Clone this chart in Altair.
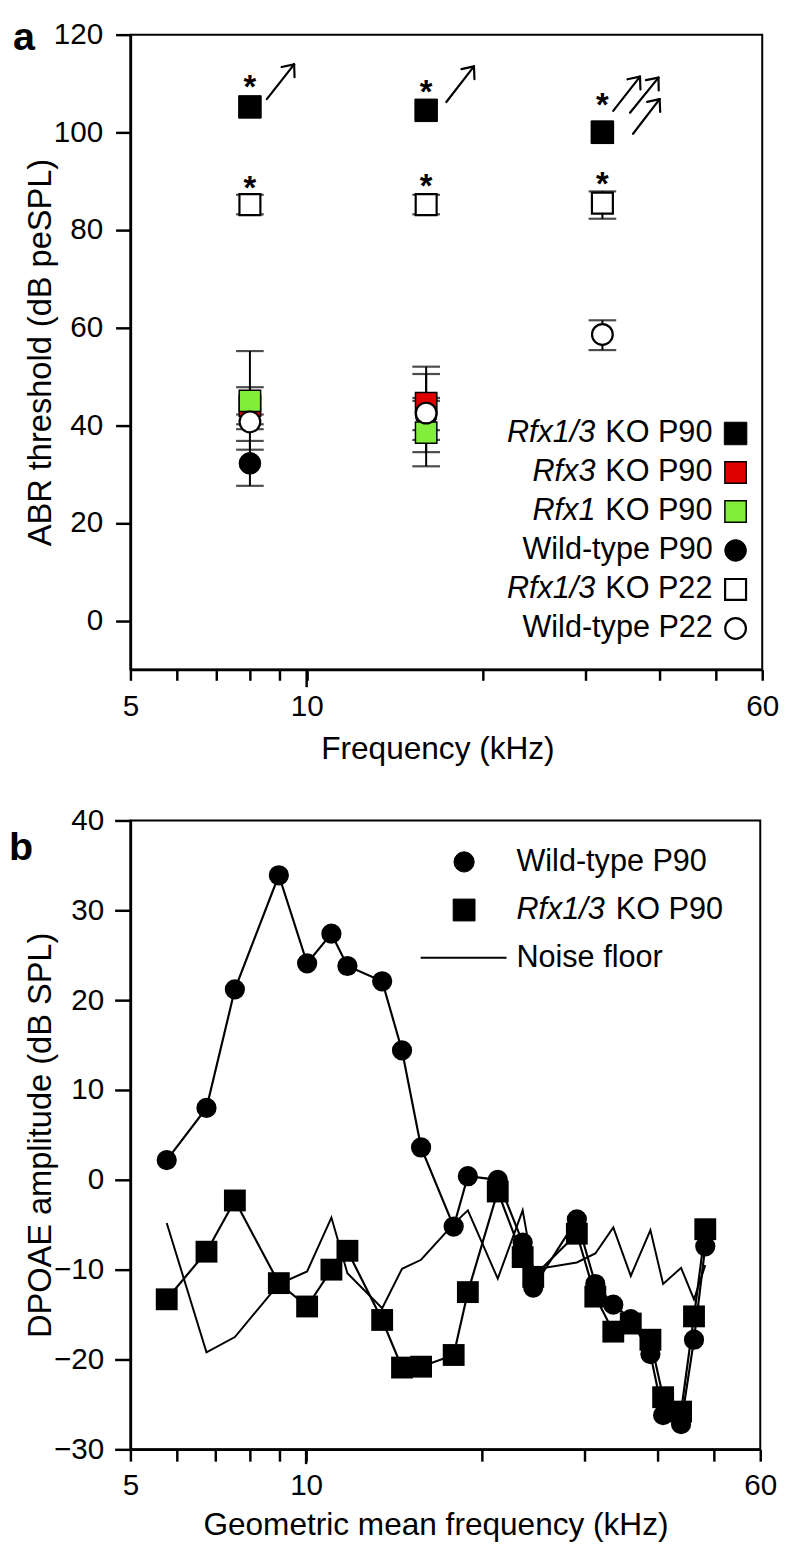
import math
import altair as alt
import pandas as pd

FONT = "Liberation Sans"

# ---------------- Panel a data ----------------
freq_a = [8, 16, 32]
series_a = ["Rfx1/3 KO P90", "Rfx3 KO P90", "Rfx1 KO P90",
            "Wild-type P90", "Rfx1/3 KO P22", "Wild-type P22"]
abr_ko13_p90 = [105.2, 104.5, 100.0]
abr_rfx3_p90 = [44.0, 44.5, 100.0]
abr_rfx1_p90 = [45.0, 38.5, 100.0]
abr_wt_p90 = [32.2, 42.0, 100.0]
abr_ko13_p22 = [85.2, 85.2, 85.5]
abr_wt_p22 = [40.7, 42.5, 58.6]

lo_ko13_p90 = [None, None, None]
hi_ko13_p90 = [None, None, None]
lo_rfx3_p90 = [40.2, 37.0, None]
hi_rfx3_p90 = [47.8, 52.0, None]
lo_rfx1_p90 = [35.0, 31.6, None]
hi_rfx1_p90 = [55.2, 45.6, None]
lo_wt_p90 = [27.6, 39.0, None]
hi_wt_p90 = [36.8, 45.0, None]
lo_ko13_p22 = [83.2, 83.2, 82.3]
hi_ko13_p22 = [87.2, 87.2, 87.9]
lo_wt_p22 = [39.2, 34.5, 55.4]
hi_wt_p22 = [42.2, 50.5, 61.5]

# significance asterisks (frequency, dB)
star_freq = [8, 16, 32, 8, 16, 32]
star_db = [110.8, 109.9, 107.1, 90.2, 90.6, 91.0]

# "above maximum" arrows (start -> tip), frequency / dB
arrow_f0 = [8.55, 17.32, 33.39, 35.67, 36.1]
arrow_v0 = [106.8, 106.2, 104.4, 104.0, 99.7]
arrow_f1 = [9.52, 19.31, 37.1, 39.9, 40.08]
arrow_v1 = [113.9, 113.5, 111.4, 111.2, 106.8]

# ---------------- Panel b data ----------------
freq_b = [5.77, 6.75, 7.55, 8.98, 10.04, 11.05, 11.77, 13.5, 14.6, 15.74,
          17.9, 18.93, 21.3, 23.5, 24.5, 29.1, 31.3, 33.6, 36.0, 38.9,
          40.9, 43.9, 46.2, 48.3]
dp_wt_p90 = [2.2, 8.0, 21.2, 33.9, 24.1, 27.4, 23.8, 22.1, 14.4, 3.6,
             -5.2, 0.4, 0.0, -7.0, -12.0, -4.4, -11.6, -13.9, -15.5, -19.4,
             -26.2, -27.2, -17.8, -7.4]
dp_ko13_p90 = [-13.3, -8.0, -2.3, -11.5, -14.1, -10.0, -7.9, -15.6, -20.9, -20.8,
               -19.5, -12.5, -1.3, -8.6, -10.8, -6.0, -13.0, -16.9, -16.0, -17.8,
               -24.2, -25.8, -15.2, -5.5]
dp_noise = [-4.8, -19.2, -17.5, -11.6, -10.2, -4.2, -10.4, -14.3, -9.9, -8.9,
            -4.9, -3.4, -11.0, -3.4, -10.0, -9.2, -8.2, -5.3, -10.7, -5.6,
            -11.6, -9.8, -13.3, -9.5]

x_ticks = [5, 6, 7, 8, 9, 10, 20, 30, 40, 50, 60]
x_labels = [5, 10, 60]
x_long_tick = [10]

# ---------------- geometry ----------------
WA, HA = 640, 643
WB, HB = 638, 637

one = pd.DataFrame({"k": [0]})

label_expr = "indexof([" + ",".join(str(v) for v in x_labels) + "], datum.value) >= 0 ? datum.value : ''"

def ax_x(title, label_pad, title_pad, tick, title_x):
    return alt.Axis(values=x_ticks, labelExpr=label_expr, title=title, grid=False,
                    tickSize=tick, labelPadding=label_pad, titlePadding=title_pad,
                    labelFlush=False, labelOverlap=False, titleFontSize=32,
                    titleX=title_x)

def ax_y(title, values, label_pad, title_pad, tick):
    return alt.Axis(values=values, title=title, grid=False, tickSize=tick,
                    labelPadding=label_pad, titlePadding=title_pad, titleFontSize=33)

SXA = alt.Scale(type="log", domain=[5, 60], nice=False)
SYA = alt.Scale(domain=[-10, 120], nice=False)
AXA = ax_x("Frequency (kHz)", 12, 12, 11, 311)
AYA = ax_y("ABR threshold (dB peSPL)", [0, 20, 40, 60, 80, 100, 120], 13, -4, 15)

def XA(f):
    return alt.X(f, type="quantitative", scale=SXA, axis=AXA)

def YA(f):
    return alt.Y(f, type="quantitative", scale=SYA, axis=AYA)

rows = []
vals = [abr_ko13_p90, abr_rfx3_p90, abr_rfx1_p90, abr_wt_p90, abr_ko13_p22, abr_wt_p22]
los = [lo_ko13_p90, lo_rfx3_p90, lo_rfx1_p90, lo_wt_p90, lo_ko13_p22, lo_wt_p22]
his = [hi_ko13_p90, hi_rfx3_p90, hi_rfx1_p90, hi_wt_p90, hi_ko13_p22, hi_wt_p22]
for s, v, lo, hi in zip(series_a, vals, los, his):
    for f, vv, l, h in zip(freq_a, v, lo, hi):
        rows.append({"series": s, "freq": f, "value": vv, "lo": l, "hi": h})
df_a = pd.DataFrame(rows)

styles_a = {
    "Wild-type P90": dict(shape="circle", fill="black", stroke="black", strokeWidth=1, size=480),
    "Rfx1 KO P90": dict(shape="square", fill="#82EE3C", stroke="black", strokeWidth=1.5, size=470),
    "Rfx3 KO P90": dict(shape="square", fill="#E00000", stroke="black", strokeWidth=1.5, size=470),
    "Rfx1/3 KO P90": dict(shape="square", fill="black", stroke="black", strokeWidth=1, size=520),
    "Rfx1/3 KO P22": dict(shape="square", fill="white", stroke="black", strokeWidth=2.2, size=450),
    "Wild-type P22": dict(shape="circle", fill="white", stroke="black", strokeWidth=2.2, size=440),
}
draw_order_a = ["Wild-type P90", "Rfx3 KO P90", "Rfx1 KO P90", "Rfx1/3 KO P90",
                "Rfx1/3 KO P22", "Wild-type P22"]

err_base = alt.Chart(df_a).transform_filter("isValid(datum.lo)")
layers_a = [
    err_base.mark_rule(color="black", strokeWidth=2).encode(x=XA("freq"), y=YA("lo"), y2="hi:Q"),
    err_base.mark_tick(color="black", orient="horizontal", size=28, thickness=2.2).encode(x=XA("freq"), y=YA("lo")),
    err_base.mark_tick(color="black", orient="horizontal", size=28, thickness=2.2).encode(x=XA("freq"), y=YA("hi")),
]
for s in draw_order_a:
    st = styles_a[s]
    layers_a.append(
        alt.Chart(df_a).transform_filter(alt.datum.series == s)
        .mark_point(shape=st["shape"], filled=True, fill=st["fill"], stroke=st["stroke"],
                    strokeWidth=st["strokeWidth"], size=st["size"], opacity=1)
        .encode(x=XA("freq"), y=YA("value"))
    )

# asterisks
df_star = pd.DataFrame({"freq": star_freq, "db": star_db})
layers_a.append(
    alt.Chart(df_star).mark_text(text="*", font=FONT, fontSize=33, fontWeight="bold",
                                 color="black", baseline="alphabetic", dy=19)
    .encode(x=XA("freq"), y=YA("db"))
)

# arrows (shaft + open head)
KX = WA / math.log10(60 / 5)
KY = HA / 130.0
seg = []
for f0, v0, f1, v1 in zip(arrow_f0, arrow_v0, arrow_f1, arrow_v1):
    seg.append({"fa": f0, "va": v0, "fb": f1, "vb": v1})
    X0, Y0 = math.log10(f0) * KX, v0 * KY
    X1, Y1 = math.log10(f1) * KX, v1 * KY
    d = math.hypot(X1 - X0, Y1 - Y0)
    ux, uy = (X0 - X1) / d, (Y0 - Y1) / d
    for ang in (40, -40):
        a = math.radians(ang)
        rx = ux * math.cos(a) - uy * math.sin(a)
        ry = ux * math.sin(a) + uy * math.cos(a)
        Xe, Ye = X1 + 13 * rx, Y1 + 13 * ry
        seg.append({"fa": f1, "va": v1, "fb": 10 ** (Xe / KX), "vb": Ye / KY})
df_seg = pd.DataFrame(seg)
layers_a.append(
    alt.Chart(df_seg).mark_rule(color="black", strokeWidth=2.2, strokeCap="round")
    .encode(x=XA("fa"), x2="fb:Q", y=YA("va"), y2="vb:Q")
)

# longer tick at 10 kHz
df_long = pd.DataFrame({"freq": x_long_tick})
layers_a.append(
    alt.Chart(df_long).mark_rule(color="black", strokeWidth=2.5)
    .encode(x=XA("freq"), y=alt.value(HA), y2=alt.value(HA + 18))
)

def txt(t, x, y, align, italic=False, size=31, weight="normal"):
    return alt.Chart(one).mark_text(
        text=t, align=align, baseline="middle", font=FONT, fontSize=size,
        fontStyle="italic" if italic else "normal", fontWeight=weight, color="black"
    ).encode(x=alt.value(x), y=alt.value(y))

def sym(x, y, st):
    return alt.Chart(one).mark_point(
        shape=st["shape"], filled=True, fill=st["fill"], stroke=st["stroke"],
        strokeWidth=st["strokeWidth"], size=st["size"], opacity=1
    ).encode(x=alt.value(x), y=alt.value(y))

# legend a
leg_a = [("Rfx1/3", "KO P90", "Rfx1/3 KO P90"), ("Rfx3", "KO P90", "Rfx3 KO P90"),
         ("Rfx1", "KO P90", "Rfx1 KO P90"), (None, "Wild-type P90", "Wild-type P90"),
         ("Rfx1/3", "KO P22", "Rfx1/3 KO P22"), (None, "Wild-type P22", "Wild-type P22")]
for i, (it, rest, key) in enumerate(leg_a):
    y = 404 + i * 39.5
    if it is None:
        layers_a.append(txt(rest, 590, y, "right"))
    else:
        layers_a.append(txt(it, 471, y, "right", italic=True))
        layers_a.append(txt(rest, 481, y, "left"))
    layers_a.append(sym(613, y, styles_a[key]))

layers_a.append(
    alt.Chart(one).mark_text(text="a", align="left", baseline="top", font=FONT,
                             fontSize=40, fontWeight="bold", color="black")
    .encode(x=alt.value(-119), y=alt.value(-16))
)

panel_a = alt.layer(*layers_a).properties(width=WA, height=HA)

# ---------------- Panel b ----------------
SXB = alt.Scale(type="log", domain=[5, 60], nice=False)
SYB = alt.Scale(domain=[-30, 40], nice=False)
AXB = ax_x("Geometric mean frequency (kHz)", 10, 9, 12, 309)
AYB = ax_y("DPOAE amplitude (dB SPL)", [-30, -20, -10, 0, 10, 20, 30, 40], 11, -4, 16)

def XB(f):
    return alt.X(f, type="quantitative", scale=SXB, axis=AXB)

def YB(f):
    return alt.Y(f, type="quantitative", scale=SYB, axis=AYB)

df_b = pd.DataFrame({"freq": freq_b, "wt": dp_wt_p90, "ko": dp_ko13_p90, "noise": dp_noise})
base_b = alt.Chart(df_b)
layers_b = [
    base_b.mark_line(color="black", strokeWidth=2).encode(x=XB("freq"), y=YB("noise")),
    base_b.mark_line(color="black", strokeWidth=2.2).encode(x=XB("freq"), y=YB("wt")),
    base_b.mark_line(color="black", strokeWidth=2.2).encode(x=XB("freq"), y=YB("ko")),
    base_b.mark_point(shape="circle", filled=True, color="black", size=420, opacity=1)
    .encode(x=XB("freq"), y=YB("wt")),
    base_b.mark_point(shape="square", filled=True, color="black", size=490, opacity=1)
    .encode(x=XB("freq"), y=YB("ko")),
    alt.Chart(df_long).mark_rule(color="black", strokeWidth=2.5)
    .encode(x=XB("freq"), y=alt.value(HB), y2=alt.value(HB + 15)),
]
circ_b = dict(shape="circle", fill="black", stroke="black", strokeWidth=1, size=420)
sq_b = dict(shape="square", fill="black", stroke="black", strokeWidth=1, size=490)
layers_b += [
    sym(338, 42, circ_b), txt("Wild-type P90", 391, 42, "left"),
    sym(338, 90.7, sq_b), txt("Rfx1/3", 391, 90.7, "left", italic=True),
    txt("KO P90", 491.7, 90.7, "left"),
    alt.Chart(one).mark_rule(color="black", strokeWidth=2)
    .encode(x=alt.value(294), x2=alt.value(381), y=alt.value(139)),
    txt("Noise floor", 391, 139, "left"),
    alt.Chart(one).mark_text(text="b", align="left", baseline="top", font=FONT,
                             fontSize=40, fontWeight="bold", color="black")
    .encode(x=alt.value(-123), y=alt.value(8)),
]
panel_b = alt.layer(*layers_b).properties(width=WB, height=HB)

chart = (
    alt.vconcat(panel_a, panel_b, spacing=40)
    .properties(padding=0)
    .configure_view(stroke="black", strokeWidth=2)
    .configure_axis(domainColor="black", domainWidth=2.5, tickColor="black", tickWidth=2.5,
                    labelFont=FONT, labelFontSize=30, labelColor="black",
                    titleFont=FONT, titleFontSize=31, titleFontWeight="normal",
                    titleColor="black")
)

chart.save("out.html", embed_options={"renderer": "svg", "actions": False})
